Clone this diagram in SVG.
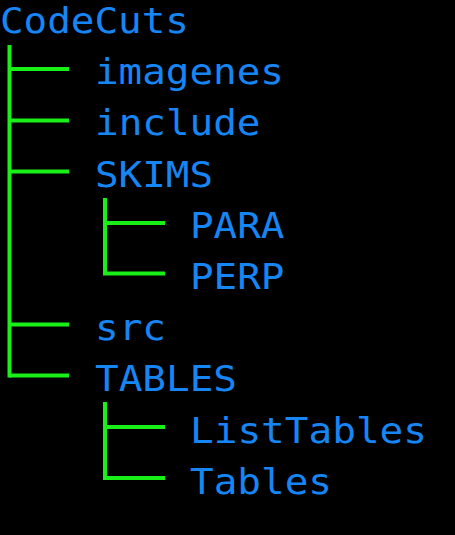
<svg xmlns="http://www.w3.org/2000/svg" width="455" height="535" viewBox="0 0 455 535">
<style>
.t{font-family:"DejaVu Sans Mono","Liberation Mono",monospace;font-size:35px;fill:#1786F5}
.c{stroke:#18F018;stroke-width:4;fill:none;stroke-linecap:butt}
</style>
<rect width="455" height="535" fill="#000"/>
<g id="connectors" class="c">
<path d="M9.5,45 V377.5"/>
<path d="M9.5,69 H69 M9.5,120.5 H69 M9.5,171.5 H69 M9.5,324.5 H69 M9.5,375.5 H69"/>
<path d="M105,198 V275.5 M105,223 H165 M105,273.5 H165"/>
<path d="M105,402 V480 M105,427 H165 M105,478 H165"/>
</g>
<g id="n-codecuts"><text class="t" x="0" y="33" textLength="189" lengthAdjust="spacingAndGlyphs">CodeCuts</text></g>
<g id="n-imagenes"><text class="t" x="95" y="84.2" textLength="189" lengthAdjust="spacingAndGlyphs">imagenes</text></g>
<g id="n-include"><text class="t" x="95" y="135.4" textLength="165.5" lengthAdjust="spacingAndGlyphs">include</text></g>
<g id="n-skims"><text class="t" x="95" y="186.6" textLength="118" lengthAdjust="spacingAndGlyphs">SKIMS</text></g>
<g id="n-para"><text class="t" x="190" y="237.8" textLength="94.5" lengthAdjust="spacingAndGlyphs">PARA</text></g>
<g id="n-perp"><text class="t" x="190" y="289" textLength="94.5" lengthAdjust="spacingAndGlyphs">PERP</text></g>
<g id="n-src"><text class="t" x="95" y="340.2" textLength="71" lengthAdjust="spacingAndGlyphs">src</text></g>
<g id="n-tables-dir"><text class="t" x="95" y="391.4" textLength="142" lengthAdjust="spacingAndGlyphs">TABLES</text></g>
<g id="n-listtables"><text class="t" x="190" y="442.6" textLength="237" lengthAdjust="spacingAndGlyphs">ListTables</text></g>
<g id="n-tables"><text class="t" x="190" y="493.8" textLength="142" lengthAdjust="spacingAndGlyphs">Tables</text></g>
</svg>
